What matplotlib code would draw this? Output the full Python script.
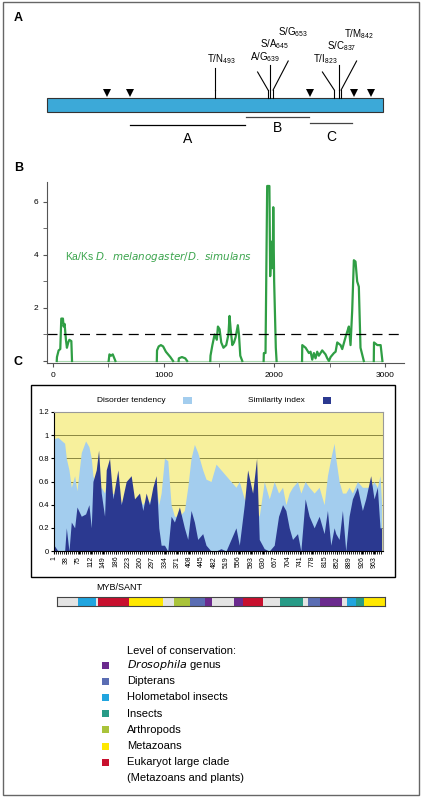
import numpy as np
import matplotlib.pyplot as plt
from matplotlib.patches import Rectangle

plt.rcParams['font.family'] = ['Liberation Sans', 'DejaVu Sans']
plt.rcParams['mathtext.default'] = 'regular'

W, H = 424, 800

# ---- panel A: protein map (aa positions)
bar_start, bar_end = 25, 958
arrow_pos = [192, 256, 756, 878, 925]
mut_labels = ['T/N', 'A/G', 'S/A', 'S/G', 'T/I', 'S/C', 'T/M']
mut_pos = [493, 639, 645, 653, 823, 837, 842]
region_names = ['A', 'B', 'C']
region_start = [256, 578, 756]
region_end = [575, 753, 872]

# ---- panel B: Ka/Ks along the sequence
kaks_x = [34, 36, 51, 66, 75, 90, 96, 105, 117, 126, 138, 148, 166, 172,
          503, 510, 525, 540, 564,
          938, 940, 955, 975, 995, 1020, 1040, 1060, 1085,
          1135, 1137, 1165, 1195, 1212,
          1421, 1423, 1440, 1460, 1480, 1490, 1505, 1520, 1540, 1565, 1585, 1595, 1605, 1620, 1635, 1650, 1670, 1680, 1692, 1701, 1710,
          1903, 1905, 1920, 1935, 1955, 1962, 1975, 1985, 1990, 1998, 2007, 2013, 2020,
          2250, 2252, 2282, 2312, 2327, 2342, 2357, 2372, 2387, 2402, 2432, 2462, 2478, 2493,
          2508, 2538, 2553, 2568, 2598, 2613, 2643, 2658, 2673, 2688, 2703, 2718, 2733, 2748, 2763, 2778, 2808,
          2898, 2900, 2930, 2960, 2976]
kaks_y = [0, 0.15, 0.4, 0.45, 1.6, 1.6, 1.3, 1.4, 0.8, 0.5, 0.7, 0.8, 0.75, 0,
          0, 0.25, 0.2, 0.25, 0,
          0, 0.4, 0.55, 0.6, 0.55, 0.35, 0.25, 0.15, 0,
          0, 0.1, 0.15, 0.1, 0,
          0, 0.2, 0.6, 1.0, 0.8, 1.3, 1.2, 0.7, 0.5, 0.6, 1.0, 1.7, 1.2, 0.6, 0.7, 0.9, 1.35, 1.0, 0.2, 0.1, 0,
          0, 0.3, 0.3, 6.6, 6.6, 3.2, 4.5, 3.5, 5.8, 3.0, 1.5, 0.5, 0,
          0, 0.6, 0.5, 0.3, 0.35, 0.05, 0.3, 0.1, 0.35, 0.2, 0.4, 0.25, 0.1, 0,
          0.15, 0.3, 0.35, 0.7, 0.6, 0.45, 0.9, 1.1, 1.3, 0.6, 1.9, 3.8, 3.75, 3.0, 2.8, 0.5, 0,
          0, 0.7, 0.6, 0.6, 0]

# ---- panel C: disorder tendency / similarity index per residue
sim_x = [1, 13, 33, 38, 46, 53, 63, 70, 83, 96, 106, 113, 118, 128, 135, 143, 153, 158, 168,
         178, 193, 203, 218, 233, 243, 258, 268, 278, 288, 298, 308, 316, 323, 333, 343, 353,
         363, 378, 393, 403, 413, 423, 433, 448, 458, 473, 488, 503, 518, 533, 548, 558, 573,
         583, 598, 610, 618, 633, 648, 663, 676, 688, 698, 708, 718, 733, 743, 756, 768, 783,
         798, 813, 823, 833, 843, 848, 858, 868, 878, 888, 898, 913, 928, 938, 953, 963, 973,
         981, 986]
sim_y = [0.05, 0.0, 0.0, 0.2, 0.0, 0.25, 0.2, 0.38, 0.3, 0.32, 0.4, 0.2, 0.6, 0.7, 0.87, 0.5,
         0.3, 0.7, 0.8, 0.45, 0.7, 0.4, 0.6, 0.65, 0.45, 0.5, 0.35, 0.5, 0.4, 0.55, 0.65, 0.2,
         0.05, 0.05, 0.0, 0.3, 0.25, 0.38, 0.2, 0.1, 0.35, 0.25, 0.1, 0.15, 0.05, 0.0, 0.0,
         0.02, 0.0, 0.1, 0.2, 0.05, 0.4, 0.7, 0.5, 0.8, 0.1, 0.02, 0.0, 0.05, 0.3, 0.4, 0.35,
         0.2, 0.1, 0.15, 0.0, 0.45, 0.3, 0.2, 0.3, 0.15, 0.35, 0.05, 0.2, 0.15, 0.1, 0.35, 0.0,
         0.3, 0.45, 0.55, 0.35, 0.45, 0.65, 0.45, 0.55, 0.2, 0.2]
dis_x = sim_x
dis_y = [0.97, 0.98, 0.93, 0.8, 0.7, 0.55, 0.65, 0.52, 0.85, 0.95, 0.9, 0.8, 0.65, 0.55,
         0.5, 0.55, 0.5, 0.6, 0.45, 0.5, 0.45, 0.42, 0.45, 0.45, 0.4, 0.45, 0.4, 0.45, 0.42,
         0.5, 0.55, 0.4, 0.5, 0.8, 0.78, 0.4, 0.3, 0.3, 0.35, 0.55, 0.8, 0.92, 0.85, 0.7, 0.62,
         0.6, 0.75, 0.7, 0.65, 0.6, 0.55, 0.6, 0.45, 0.4, 0.45, 0.35, 0.3, 0.6, 0.45, 0.6, 0.5,
         0.55, 0.4, 0.5, 0.55, 0.6, 0.5, 0.6, 0.55, 0.5, 0.55, 0.4, 0.65, 0.8, 0.93, 0.8, 0.6,
         0.5, 0.5, 0.55, 0.5, 0.6, 0.55, 0.55, 0.55, 0.6, 0.55, 0.65, 0.4]
res_ticks = list(range(1, 990, 37))

# conservation strip (residue boundaries and classes)
strip_bounds = [0, 64, 118, 124, 220, 324, 357, 406, 450, 474, 541, 566, 627, 680, 749, 764, 802, 870, 883, 912, 937, 1000]
strip_class = ['none', 'holo', 'none', 'euk', 'meta', 'none', 'arth', 'dipt', 'dros', 'none', 'dros',
               'euk', 'none', 'ins', 'none', 'dipt', 'dros', 'none', 'holo', 'ins', 'meta']
class_colors = {'none': '#e4e4e4', 'dros': '#6b2a8e', 'dipt': '#5a6db3', 'holo': '#21a5df',
                'ins': '#279b87', 'arth': '#a9c33a', 'meta': '#ffe800', 'euk': '#c8102e'}
legend_classes = ['dros', 'dipt', 'holo', 'ins', 'arth', 'meta', 'euk']
legend_names = ['$\\it{Drosophila}$ genus', 'Dipterans', 'Holometabol insects', 'Insects',
                'Arthropods', 'Metazoans', 'Eukaryot large clade']


def px_axes(fig, x0, y0, x1, y1):
    return fig.add_axes([x0 / W, 1 - y1 / H, (x1 - x0) / W, (y1 - y0) / H])


fig = plt.figure(figsize=(W / 100, H / 100), dpi=100)

# overlay in pixel coordinates for frame and free text
ov = fig.add_axes([0, 0, 1, 1])
ov.set_xlim(0, W)
ov.set_ylim(H, 0)
ov.axis('off')
ov.add_patch(Rectangle((3, 2), 416, 793, fill=False, ec='#666666', lw=1))
for lab, y in [('A', 18), ('B', 168), ('C', 362)]:
    ov.text(14, y, lab, fontsize=9, fontweight='bold', va='center')

# panel A
axA = px_axes(fig, 38, 20, 398, 150)
axA.set_xlim(0, 1000)
axA.set_ylim(150, 20)
axA.axis('off')
axA.add_patch(Rectangle((bar_start, 98), bar_end - bar_start, 14, fc='#3ca9d8', ec='#333333', lw=0.8, zorder=2))
for p in arrow_pos:
    axA.plot([p], [93], marker='v', ms=6, mew=0, color='black', zorder=3)
tops = [(493, 68), (610, 72), (645, 65), (695, 61), (790, 72), (837, 65), (885, 61)]
texts = [(470, 62), (590, 60), (617, 47), (667, 35), (765, 62), (803, 49), (850, 37)]
for lab, p, (tx, ty), (lx, ly) in zip(mut_labels, mut_pos, tops, texts):
    axA.plot([p, p], [98, 90], color='black', lw=0.8)
    axA.plot([p, tx], [90, ty], color='black', lw=0.8)
    axA.text(lx, ly, f'{lab}$_{{{p}}}$', fontsize=7, ha='left', va='baseline')
ys = [125, 117, 123]
for name, s, e, y in zip(region_names, region_start, region_end, ys):
    axA.plot([s, e], [y, y], color='black' if name == 'A' else '#444444', lw=0.9)
    axA.text((s + e) / 2, y + 14 if name != 'B' else y + 11, name, fontsize=10, ha='center', va='center')

# panel B
axB = px_axes(fig, 47, 182, 404, 363)
axB.set_xlim(-54, 3171)
axB.set_ylim(-0.075, 6.75)
axB.plot([kaks_x[0], kaks_x[-1]], [0, 0], color='#a8d8ae', lw=0.8)
kx = np.array(kaks_x)
ky = np.array(kaks_y)
start = 0
for i in range(1, len(kx)):
    if ky[i] == 0 and ky[i - 1] == 0:
        axB.plot(kx[start:i], ky[start:i], color='#2f9e44', lw=1.6)
        start = i
axB.plot(kx[start:], ky[start:], color='#2f9e44', lw=1.6)
axB.axhline(1, color='black', lw=0.9, ls=(0, (8, 5)))
for s in ['top', 'right']:
    axB.spines[s].set_visible(False)
axB.spines['left'].set_color('#555555')
axB.spines['bottom'].set_color('#555555')
axB.set_xticks([0, 1000, 2000, 3000])
axB.set_xticks([500, 1500, 2500], minor=True)
axB.set_yticks([0, 2, 4, 6], ['', '2', '4', '6'])
axB.set_yticks([1, 3, 5], minor=True)
axB.tick_params(labelsize=6, length=3, color='#555555')
axB.tick_params(which='minor', length=3, color='#555555')
axB.text(0.05, 0.57, 'Ka/Ks $\\it{D.\\ melanogaster/D.\\ simulans}$', transform=axB.transAxes,
         color='#3aa44c', fontsize=7.5)

# panel C
ov.add_patch(Rectangle((31, 385), 364, 192, fill=False, ec='black', lw=1))
ov.text(97, 401, 'Disorder tendency', fontsize=6, va='center')
ov.add_patch(Rectangle((183, 397), 9, 7, fc='#a3cdee', ec='none'))
ov.text(248, 401, 'Similarity index', fontsize=6, va='center')
ov.add_patch(Rectangle((323, 397), 8, 7, fc='#2b3990', ec='none'))
axC = px_axes(fig, 54, 412, 383, 551)
axC.set_facecolor('#f7f09c')
axC.set_xlim(1, 990)
axC.set_ylim(0, 1.2)
axC.fill_between(dis_x, dis_y, color='#a3cdee', lw=0)
axC.fill_between(sim_x, sim_y, color='#2b3990', lw=0)
for v in [0.2, 0.4, 0.6, 0.8, 1.0]:
    axC.axhline(v, color='#8a8640', lw=0.7, zorder=0.5)
axC.set_yticks([0, 0.2, 0.4, 0.6, 0.8, 1.0, 1.2], ['0', '0.2', '0.4', '0.6', '0.8', '1', '1.2'])
axC.set_xticks(res_ticks, [str(t) for t in res_ticks], rotation=90)
axC.set_xticks(np.arange(1, 990, 6), minor=True)
axC.tick_params(labelsize=5.5, length=2, pad=1.5)
axC.tick_params(which='minor', length=2)
axC.tick_params(axis='x', labelsize=5)
for s in ['top', 'right']:
    axC.spines[s].set_color('#999999')

# conservation strip
ov.text(96, 588, 'MYB/SANT', fontsize=6.5, va='center')
axS = px_axes(fig, 57, 597, 385, 606)
axS.set_xlim(0, 1000)
axS.set_ylim(0, 1)
for a, b, c in zip(strip_bounds[:-1], strip_bounds[1:], strip_class):
    axS.axvspan(a, b, color=class_colors[c], lw=0)
axS.set_xticks([])
axS.set_yticks([])
for s in axS.spines.values():
    s.set_color('#444444')
    s.set_linewidth(0.8)

# legend
ov.text(127, 651, 'Level of conservation:', fontsize=8, va='center')
for i, (c, n) in enumerate(zip(legend_classes, legend_names)):
    y = 665 + i * 16.2
    ov.add_patch(Rectangle((102, y - 3.5), 7, 7, fc=class_colors[c], ec='none'))
    ov.text(127, y, n, fontsize=8, va='center')
ov.text(127, 778, '(Metazoans and plants)', fontsize=8, va='center')

fig.savefig('out.png', dpi=100)
